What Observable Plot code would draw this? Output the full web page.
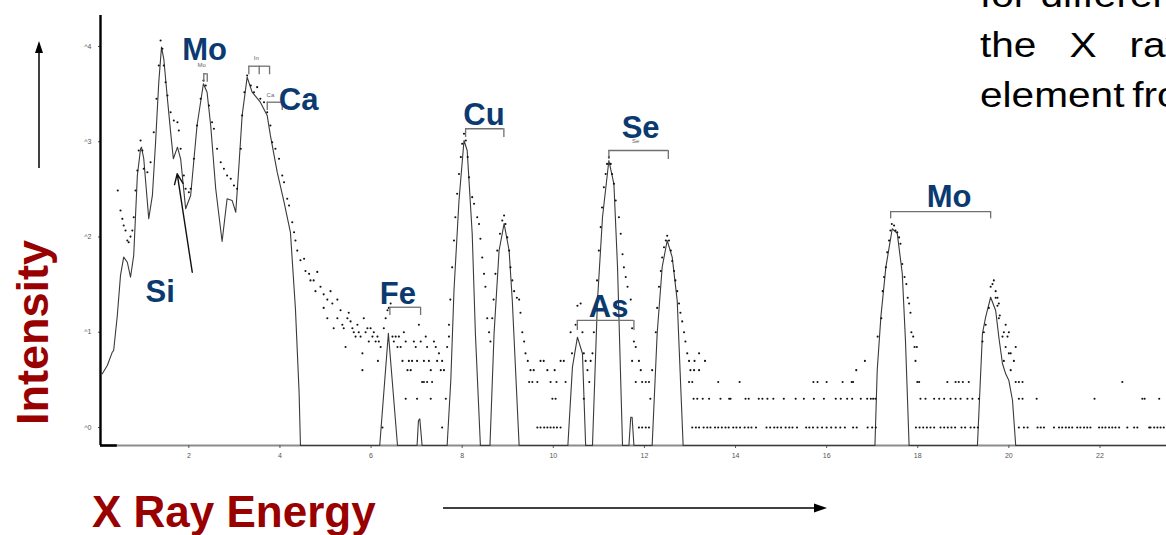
<!DOCTYPE html>
<html>
<head>
<meta charset="utf-8">
<script src="https://cdn.jsdelivr.net/npm/d3@7"></script>
<script src="https://cdn.jsdelivr.net/npm/@observablehq/plot@0.6"></script>
<style>
  html, body { margin: 0; padding: 0; background: #fff; }
  #wrap { position: relative; width: 1166px; height: 535px; overflow: hidden; font-family: "Liberation Sans", Arial, sans-serif; }
  #chart { position: absolute; left: 0; top: 0; }
  .ylab { position: absolute; left: 10px; top: 425px; transform-origin: 0 0; transform: rotate(-90deg);
          font-size: 45px; line-height: 1; font-weight: bold; color: #990000; white-space: nowrap; }
  .xlab { position: absolute; left: 92px; top: 490px; font-size: 44px; line-height: 1; font-weight: bold; color: #990000; white-space: nowrap; }
  .side { position: absolute; left: 980px; top: -30px; font-size: 35px; line-height: 50px; color: #000;
          transform-origin: 0 0; transform: scaleX(1.16); white-space: nowrap; }
  .side div:nth-child(1) { word-spacing: 1.5px; }
  .side div:nth-child(2) { word-spacing: 18.7px; }
  .side div:nth-child(3) { word-spacing: -3px; }
  #deco { position: absolute; left: 0; top: 0; pointer-events: none; }
</style>
</head>
<body>
<div id="wrap">
  <div id="chart"></div>
  <div class="ylab">Intensity</div>
  <div class="xlab">X Ray Energy</div>
  <div class="side"><div>for different</div><div>the X ray</div><div>element from</div></div>
  <svg id="deco" width="1166" height="535">
    <line x1="39" y1="168" x2="39" y2="50" stroke="#000" stroke-width="1.5"/>
    <polygon points="39,41 35,53 43,53" fill="#000"/>
    <line x1="443" y1="508" x2="815" y2="508" stroke="#000" stroke-width="1.6"/>
    <polygon points="827,508 814,503.5 814,512.5" fill="#000"/>
  </svg>
</div>
<script>
// ---- Spectrum fit line (energy keV, counts; 0 = no counts) ----
const lineEnergy = [0.10,0.21,0.32,0.35,0.43,0.50,0.57,0.65,0.72,0.79,0.82,0.87,0.94,0.96,1.01,1.09,1.12,1.20,1.27,1.34,1.40,1.45,1.53,1.60,1.66,1.75,1.82,1.93,2.04,2.18,2.32,2.40,2.48,2.59,2.73,2.84,2.95,3.03,3.10,3.17,3.28,3.39,3.57,3.72,3.79,3.94,4.09,4.23,4.34,4.42,4.45,
  6.19,6.38,6.58, 7.01,7.04,7.07,7.12, 7.67,7.75,7.82,7.93,8.04,8.11,8.22,8.29,8.40,
  8.61,8.70,8.81,8.92,9.03,9.10,9.25, 10.32,10.42,10.53,10.64,10.71,
  10.86,10.97,11.08,11.22,11.33,11.41,11.52, 11.66,11.70,11.73,11.77,
  12.17,12.28,12.39,12.50,12.61,12.72,12.85,
  17.06,17.11,17.19,17.30,17.44,17.55,17.66,17.73,17.81,
  19.31,19.42,19.49,19.60,19.71,19.78,19.86,19.93,20.00,20.08,20.15, 23.46];
const lineCounts = [3.66,4.48,6.18,6.43,15.0,39.5,61.4,54.3,37.8,64,132,442,843,877,667,232,156,273,989,4220,9840,7430,2825,1260,662,877,662,198,273,1482,4060,3311,1482,321,89.7,252,242,182,563,1888,4764,3311,2600,1888,1164,479,232,112,17.6,2.35,0,
  0,9.77,0, 0,1.18,1.23,0, 0,3.11,27.4,242,1030,809,109,9.7,0,
  0,9.7,72.1,138,72.1,21.5,0, 0,4.3,8.87,5.98,0,
  0,21.5,161,635,362,48.2,0, 0,1.28,1.28,0,
  0,9.7,48.2,91.9,61.4,21.5,0,
  0,3.97,14.4,48.2,122,109,41.4,8.19,0,
  0,9.7,14.4,23.3,16.9,8.87,4.67,3.66,3.11,1.92,0, 0];

// ---- Measured points around the peaks [energy, counts] ----
const peakDots = [[0.44,308],[0.50,190],[0.54,155],[0.57,132],[0.61,117],[0.65,92],[0.68,88],[0.72,101],[0.76,117],[0.79,161],[0.83,308],[0.87,499],[0.90,809],[0.94,1030],[0.98,809],[1.01,520],[1.09,479],[1.16,610],[1.23,1260],[1.29,2825],[1.34,6320],[1.38,11560],[1.42,9460],[1.45,6320],[1.49,4220],[1.53,3060],[1.60,2042],[1.67,1671],[1.75,1604],[1.78,1313],[1.82,843],[1.89,442],[1.93,321],[2.00,295],[2.04,321],[2.11,662],[2.18,1482],[2.26,2825],[2.32,4397],[2.37,3899],[2.44,2404],[2.51,1604],[2.55,1368],[2.62,843],[2.70,610],[2.77,520],[2.84,442],[2.92,408],[2.99,347],[3.06,321],[3.14,843],[3.17,1888],[3.22,3311],[3.28,4963],[3.36,3899],[3.43,3311],[3.50,3741],[3.57,2825],[3.65,2600],[3.72,2042],[3.79,1482],[3.83,989],[3.90,843],[3.98,662],[4.05,442],[4.09,376],[4.16,252],[4.20,214],[4.27,143],[4.31,112],[4.34,92],[4.38,72],[4.45,57],[4.53,59],[4.56,44],[4.64,41],[4.67,35],[4.74,35],[4.78,27],[4.82,43],[4.89,30],[4.96,25],[4.96,18],[5.04,22],[5.04,14],[5.11,27],[5.15,20],[5.18,11],[5.26,22],[5.26,14],[5.33,17],[5.37,12],[5.40,11],[5.44,7],[5.48,14],[5.51,16],[5.55,13],[5.59,11],[5.62,10],[5.66,9],[5.70,12],[5.73,10],[5.77,9],[5.81,6],[5.81,4],[5.84,14],[5.88,10],[5.92,11],[5.95,8],[5.99,11],[6.03,9],[6.06,10],[6.10,8],[6.14,9],[6.15,5],[6.17,8],[6.21,7],[6.28,11],[6.32,14],[6.36,17],[6.39,18],[6.43,20],[6.47,9],[6.50,8],[6.54,9],[6.58,7],[6.61,9],[6.65,7],[6.69,5],[6.72,10],[6.76,8],[6.80,4],[6.83,5],[6.87,4],[6.90,5],[6.94,8],[6.98,7],[7.01,5],[7.05,12],[7.09,8],[7.16,5],[7.20,9],[7.23,7],[7.27,5],[7.31,4],[7.38,8],[7.42,7],[7.45,5],[7.49,6],[7.53,4],[7.56,5],[7.60,4],[7.67,7],[7.71,9],[7.71,12],
  [7.74,22],[7.78,48],[7.82,92],[7.85,161],[7.89,284],[7.93,458],[7.97,690],[8.00,951],[8.04,1211],[8.08,1030],[8.12,690],[8.15,423],[8.22,262],[8.26,223],[8.33,161],[8.37,137],[8.40,96],[8.44,61],[8.48,41],[8.51,30],[8.55,14],[8.59,10],[8.62,8],
  [8.66,14],[8.69,22],[8.73,41],[8.77,72],[8.83,108],[8.88,149],[8.92,168],[8.95,137],[8.99,99],[9.03,72],[9.06,48],[9.10,35],[9.14,27],[9.20,23],[9.25,22],[9.28,16],[9.32,10],[9.36,8],[9.39,6],[9.44,5],[9.50,4],[9.57,4],[9.72,5],[9.79,5],[9.87,4],[10.03,4],[10.16,5],[10.23,5],
  [10.38,10],[10.41,6],[10.49,12],[10.53,19],[10.60,20],[10.64,10],[10.67,6],[10.71,5],[10.75,4],[10.82,5],[10.86,6],
  [10.89,10],[10.93,18],[10.96,35],[11.00,72],[11.04,127],[11.07,204],[11.11,333],[11.15,458],[11.18,585],[11.22,690],[11.26,585],[11.29,458],[11.33,362],[11.37,242],[11.44,161],[11.48,108],[11.52,66],[11.55,48],[11.59,38],[11.63,30],[11.70,22],[11.73,11],[11.77,8],[11.81,7],[11.73,5],[11.88,5],[11.92,4],[12.17,4],
  [12.25,10],[12.28,18],[12.32,30],[12.36,44],[12.39,61],[12.43,78],[12.47,92],[12.50,103],[12.54,92],[12.58,72],[12.61,56],[12.65,44],[12.68,35],[12.72,27],[12.76,20],[12.79,16],[12.83,13],[12.87,10],[12.90,8],[12.94,6],[12.98,5],[13.01,4],[13.09,4],[13.20,4],[13.10,5],[13.33,5],[13.20,6],
  [16.65,4],[16.84,5],
  [17.12,9],[17.20,14],[17.23,27],[17.26,38],[17.30,48],[17.33,69],[17.37,92],[17.40,117],[17.43,137],[17.48,132],[17.51,117],[17.55,112],[17.59,99],[17.62,85],[17.66,52],[17.71,38],[17.75,32],[17.78,23],[17.81,20],[17.84,16],[17.86,10],[17.90,9],[17.93,7],[17.98,7],[17.95,5],
  [19.42,8],[19.45,10],[19.49,12],[19.56,18],[19.60,30],[19.64,32],[19.67,35],[19.71,27],[19.75,23],[19.78,20],[19.80,15],[19.71,23],[19.75,19],[19.78,14],[19.89,10],[19.93,12],[20.00,10],[19.86,9],[19.97,9],[19.93,7],[20.00,6],[20.04,6],[20.15,7],[19.89,5],[20.11,5],[20.04,4]];

// ---- Low-count rows (energies where 1, 2 or 3 counts were recorded) ----
const oneCountEnergy = [6.25,7.56,9.65,9.72,9.80,9.87,9.94,10.01,10.08,10.16,11.88,11.95,12.03,12.10,
  13.05,13.13,13.20,13.30,13.38,13.45,13.55,13.62,13.70,13.78,13.85,13.95,14.02,14.10,14.20,14.28,14.35,14.45,
  14.68,14.76,14.85,14.92,15.00,15.10,15.18,15.25,15.35,15.55,15.62,15.70,15.80,15.90,16.00,16.10,16.20,16.30,16.40,16.58,16.66,16.90,17.00,17.08,
  17.96,18.04,18.12,18.20,18.28,18.36,18.50,18.58,18.66,18.74,18.82,18.96,19.04,19.16,19.24,19.32,
  20.22,20.33,20.41,20.63,20.70,20.77,20.99,21.10,21.17,21.25,21.32,21.39,21.50,21.57,21.65,21.72,21.79,21.98,22.05,22.12,22.20,22.27,22.34,22.42,22.60,22.75,22.82,23.08,23.11,23.19,23.26,23.33,23.40];
const twoCountEnergy = [6.76,7.01,7.31,7.64,9.98,10.05,10.67,12.13,13.08,13.16,13.28,13.42,13.67,13.86,13.89,14.22,14.29,14.51,14.59,14.70,14.83,15.06,15.32,15.50,15.72,15.94,16.20,16.31,16.45,16.56,16.75,16.89,16.97,17.02,17.07,
  18.06,18.17,18.36,18.47,18.58,18.72,18.83,18.94,19.09,19.20,19.34,20.22,20.30,20.61,21.88,22.93,22.98,23.30];
const threeCountEnergy = [7.12,7.16,7.23,7.34,9.47,9.54,9.65,9.94,10.07,10.27,10.79,11.81,11.95,12.03,12.10,12.98,13.05,13.62,14.09,15.71,15.80,16.00,16.35,16.55,16.58,17.99,18.03,18.65,18.83,18.90,18.99,19.12,20.15,20.22,20.30,22.49];

// ---- Element annotations ----
const elementNames  = ["Mo","Ca","Si","Fe","Cu","Se","As","Mo"];
const elementEnergy = [1.855,3.976,1.049,6.193,8.024,11.50,10.78,18.195];
const elementCounts = [7250,2155,20.7,19.6,1482,1100,14.4,205.6];

const bracketStart = [8.075,11.22,10.527,6.413,17.405,3.317,3.721,2.329];
const bracketEnd   = [8.915,12.525,11.77,7.087,19.6,3.772,4.05,2.404];
const bracketTop   = [1368,809,13.3,18.3,185,6210,2600,5165];
const bracketFoot  = [1109,651,10.4,15.0,155,5045,2130,4220];

const smallNames  = ["Mo","In","Ca","Se"];
const smallEnergy = [2.28,3.48,3.79,11.81];
const smallCounts = [6025,7130,2915,959];

const siArrowFrom = [2.075, 42.7];
const siArrowTo   = [1.745, 461];

const xTicks = [2,4,6,8,10,12,14,16,18,20,22];
const yTicks = [1,10,100,1000,10000];

// ---- Build tables ----
const yFloor = 0.647;
const xDomain = [0.061, 23.46];
const lineData = lineEnergy.map((e, i) => ({e, c: Math.max(lineCounts[i], yFloor)}));
const dotData = [
  ...peakDots.map(([e, c]) => ({e, c})),
  ...oneCountEnergy.map(e => ({e, c: 1})),
  ...twoCountEnergy.map(e => ({e, c: 2})),
  ...threeCountEnergy.map(e => ({e, c: 3}))
];
const labels = elementNames.map((name, i) => ({name, e: elementEnergy[i], c: elementCounts[i]}));
const brackets = bracketStart.map((s, i) => ({e1: s, e2: bracketEnd[i], top: bracketTop[i], foot: bracketFoot[i]}));
const legs = brackets.flatMap(b => [{e: b.e1, top: b.top, foot: b.foot}, {e: b.e2, top: b.top, foot: b.foot}]);
legs.push({e: (bracketStart[5] + bracketEnd[5]) / 2, top: bracketTop[5], foot: bracketFoot[5]});
const smallLabels = smallNames.map((name, i) => ({name, e: smallEnergy[i], c: smallCounts[i]}));

const chart = Plot.plot({
  width: 1166, height: 535,
  marginTop: 15, marginBottom: 90, marginLeft: 100, marginRight: 0,
  style: {background: "transparent", fontFamily: "Liberation Sans, Arial, sans-serif", overflow: "visible"},
  x: {domain: xDomain, label: null},
  y: {type: "log", domain: [yFloor, 21150], label: null},
  marks: [
    Plot.ruleY([yFloor], {stroke: "#8c8c8c", strokeWidth: 2}),
    Plot.ruleY([yFloor], {x1: xDomain[0], x2: 0.43, stroke: "#000", strokeWidth: 2.5}),
    Plot.axisX({ticks: xTicks, tickSize: 3, tickPadding: 5, fontSize: 7, color: "#555", label: null}),
    Plot.axisY({ticks: yTicks, tickFormat: d => "^" + Math.round(Math.log10(d)), tickSize: 2, tickPadding: 7, fontSize: 7, color: "#555", label: null}),
    Plot.line(lineData, {x: "e", y: "c", stroke: "#3a3a3a", strokeWidth: 1.1}),
    Plot.dot(dotData, {x: "e", y: "c", r: 1.05, fill: "#111", stroke: null}),
    Plot.ruleY(brackets, {y: "top", x1: "e1", x2: "e2", stroke: "#707070", strokeWidth: 1.3}),
    Plot.ruleX(legs, {x: "e", y1: "top", y2: "foot", stroke: "#707070", strokeWidth: 1.3}),
    Plot.text(smallLabels, {x: "e", y: "c", text: "name", fontSize: 6, fill: "#666", lineAnchor: "bottom"}),
    Plot.arrow([{x1: siArrowFrom[0], y1: siArrowFrom[1], x2: siArrowTo[0], y2: siArrowTo[1]}],
      {x1: "x1", y1: "y1", x2: "x2", y2: "y2", stroke: "#111", strokeWidth: 1.4, headLength: 12, headAngle: 45}),
    Plot.text(labels, {x: "e", y: "c", text: "name", textAnchor: "start", lineAnchor: "bottom",
      fontSize: 31, fontWeight: "bold", fill: "#0b3a70"}),
    Plot.ruleX([xDomain[0]], {stroke: "#000", strokeWidth: 2.4})
  ]
});
document.getElementById("chart").appendChild(chart);
</script>
</body>
</html>
